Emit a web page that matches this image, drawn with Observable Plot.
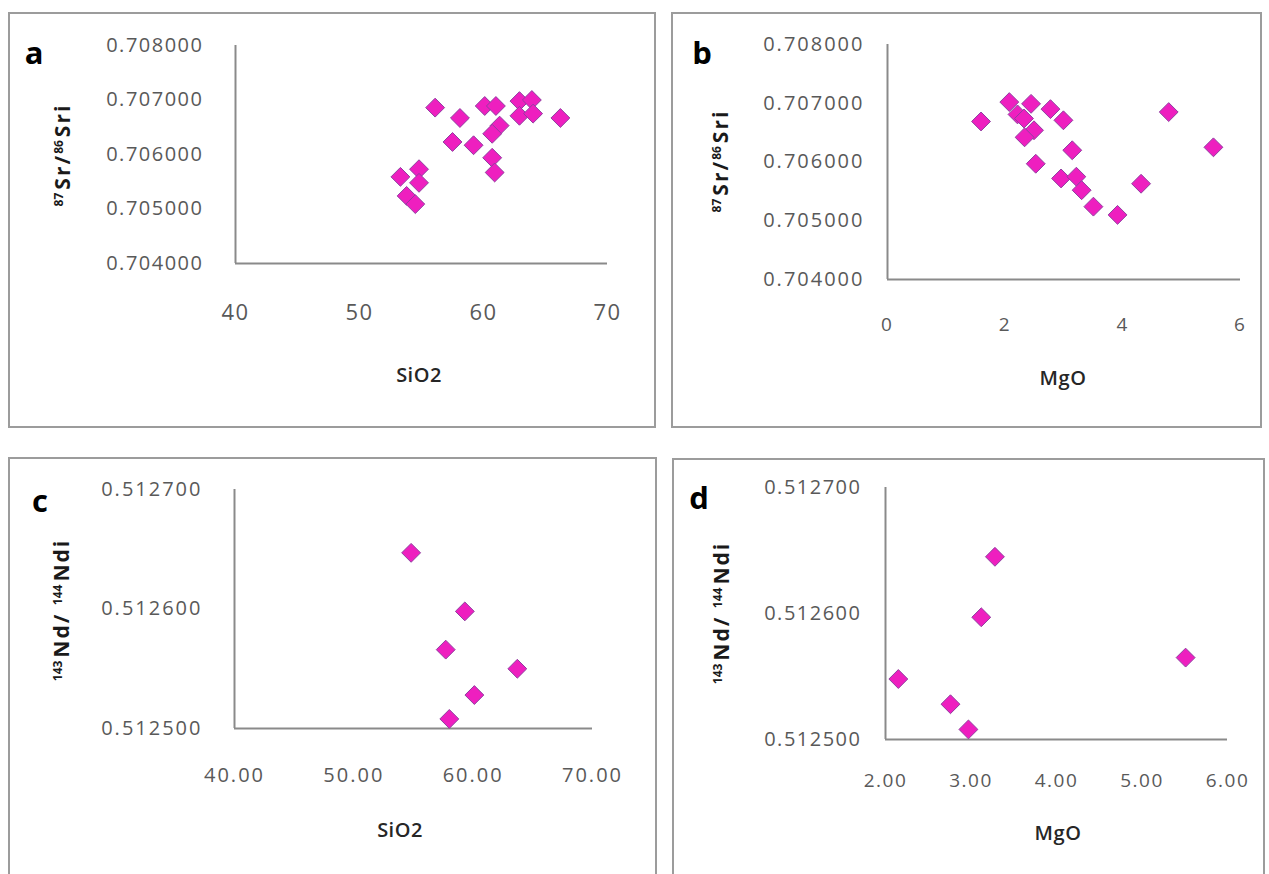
<!DOCTYPE html>
<html><head><meta charset="utf-8">
<script src="https://cdn.jsdelivr.net/npm/d3@7"></script>
<script src="https://cdn.jsdelivr.net/npm/@observablehq/plot@0.6"></script>
<style>
body{margin:0;background:#fff;}
#page{position:relative;width:1269px;height:874px;overflow:hidden;background:#fff;font-family:"Open Sans",sans-serif;}
.box{position:absolute;border:2px solid #9c9c9c;box-sizing:border-box;}
.holder{position:absolute;}
.letter{position:absolute;font-weight:700;font-size:31px;color:#000;transform:translate(-50%,-50%);line-height:1;}
.xt{position:absolute;font-weight:600;font-size:20px;color:#262626;transform:translate(-50%,-50%);line-height:1;letter-spacing:0.5px;}
.yt{position:absolute;font-weight:700;font-size:21px;color:#1a1a1a;transform:translate(-50%,-50%) rotate(-90deg);white-space:nowrap;line-height:1;letter-spacing:2px;}
.yt sup{font-size:12px;font-weight:700;vertical-align:7px;letter-spacing:0;margin-right:3px;}
</style>
</head><body><div id="page"></div>
<script>
// Panel a: SiO2 vs 87Sr/86Sri
const sio2A = [56.1, 58.1, 60.1, 61.0, 62.9, 63.9, 62.9, 64.0, 66.2, 61.3, 60.7, 57.5, 59.2, 60.7, 60.9, 53.3, 54.8, 54.8, 53.8, 54.5];
const srA   = [0.70686, 0.70667, 0.70689, 0.70689, 0.70698, 0.70700, 0.70671, 0.70675, 0.70667, 0.70653, 0.70638, 0.70623, 0.70617, 0.70594, 0.70567, 0.70559, 0.70573, 0.70548, 0.70524, 0.70509];
// Panel b: MgO vs 87Sr/86Sri
const mgoB = [1.59, 2.07, 2.44, 2.21, 2.32, 2.49, 2.33, 2.77, 2.99, 3.14, 2.52, 2.95, 3.21, 3.30, 3.50, 3.91, 4.31, 4.78, 5.54];
const srB  = [0.70669, 0.70702, 0.70699, 0.70681, 0.70674, 0.70654, 0.70642, 0.70690, 0.70671, 0.70620, 0.70597, 0.70572, 0.70575, 0.70552, 0.70524, 0.70510, 0.70563, 0.70685, 0.70625];
// Panel c: SiO2 vs 143Nd/144Ndi
const sio2C = [54.8, 59.3, 57.7, 63.7, 60.1, 58.0];
const ndC   = [0.512647, 0.512598, 0.512566, 0.512550, 0.512528, 0.512508];
// Panel d: MgO vs 143Nd/144Ndi
const mgoD = [3.28, 3.12, 5.51, 2.15, 2.76, 2.97];
const ndD  = [0.512645, 0.512597, 0.512565, 0.512548, 0.512528, 0.512508];
// Tick values
const srTicks = [0.704, 0.705, 0.706, 0.707, 0.708];
const ndTicks = [0.5125, 0.5126, 0.5127];
const sioTicks = [40, 50, 60, 70];
const mgoTicksB = [0, 2, 4, 6];
const mgoTicksD = [2, 3, 4, 5, 6];
const panelLetters = ["a", "b", "c", "d"];
const xTitles = ["SiO2", "MgO", "SiO2", "MgO"];

const page = document.getElementById("page");

function add(cls, html, x, y) {
  const d = document.createElement("div");
  d.className = cls; d.innerHTML = html;
  d.style.left = x + "px"; d.style.top = y + "px";
  page.appendChild(d);
}

function panel(p) {
  const box = document.createElement("div");
  box.className = "box";
  Object.assign(box.style, {left: p.bx + "px", top: p.by + "px", width: p.bw + "px", height: p.bh + "px"});
  page.appendChild(box);
  const data = p.xs.map((x, i) => ({x, y: p.ys[i]}));
  const chart = Plot.plot({
    width: p.w, height: p.h,
    marginLeft: p.fl - p.left, marginRight: p.left + p.w - p.fr,
    marginTop: p.ft - p.top, marginBottom: p.top + p.h - p.fb,
    x: {domain: p.xd},
    y: {domain: p.yd},
    style: {fontFamily: "Open Sans, sans-serif", background: "transparent", overflow: "visible", color: "#595959", letterSpacing: p.ls},
    marks: [
      Plot.axisY(p.yticks, {tickSize: 0, tickPadding: p.ypad, tickFormat: d => d.toFixed(6), fontSize: p.yfs, color: "#595959", label: null}),
      Plot.axisX(p.xticks, {tickSize: 0, tickPadding: p.xpad, tickFormat: p.xfmt, fontSize: p.xfs, color: "#595959", label: null}),
      Plot.ruleX([p.xd[0]], {stroke: "#8a8a8a", strokeWidth: 2}),
      Plot.ruleY([p.yd[0]], {stroke: "#8a8a8a", strokeWidth: 2}),
      Plot.dot(data, {x: "x", y: "y", symbol: "diamond2", r: 8.5, fill: "#ee1fbf", stroke: "#8f3fa0", strokeWidth: 1})
    ]
  });
  const holder = document.createElement("div");
  holder.className = "holder";
  holder.style.left = p.left + "px"; holder.style.top = p.top + "px";
  holder.appendChild(chart);
  page.appendChild(holder);
  add("letter", p.letter, p.lx, p.ly);
  add("xt", p.xtitle, p.xtx, p.xty);
  add("yt", p.ytitle, p.ytx, p.yty);
}

const srTitle = "<sup>87</sup>Sr/<sup>86</sup>Sri";
const ndTitle = "<sup>143</sup>Nd/ <sup>144</sup>Ndi";

panel({bx: 8, by: 12, bw: 648, bh: 416, left: 8, top: 12, w: 648, h: 416,
  fl: 235, fr: 607, ft: 45, fb: 263, xd: [40, 70], yd: [0.704, 0.708],
  xs: sio2A, ys: srA, xticks: sioTicks, yticks: srTicks, xfmt: d => String(d),
  ypad: 32, xpad: 41, yfs: 20, xfs: 22, ls: "1.5px",
  letter: panelLetters[0], lx: 34, ly: 52, xtitle: xTitles[0], xtx: 419, xty: 375,
  ytitle: srTitle, ytx: 62, yty: 155});

panel({bx: 671, by: 12, bw: 591, bh: 416, left: 671, top: 12, w: 591, h: 416,
  fl: 887, fr: 1240, ft: 44, fb: 279, xd: [0, 6], yd: [0.704, 0.708],
  xs: mgoB, ys: srB, xticks: mgoTicksB, yticks: srTicks, xfmt: d => String(d),
  ypad: 23, xpad: 38, yfs: 20, xfs: 19, ls: "2px",
  letter: panelLetters[1], lx: 702, ly: 52, xtitle: xTitles[1], xtx: 1063, xty: 378,
  ytitle: srTitle, ytx: 720, yty: 161});

panel({bx: 8, by: 457, bw: 649, bh: 440, left: 8, top: 457, w: 649, h: 417,
  fl: 234, fr: 592, ft: 489, fb: 728, xd: [40, 70], yd: [0.5125, 0.5127],
  xs: sio2C, ys: ndC, xticks: sioTicks, yticks: ndTicks, xfmt: d => d.toFixed(2),
  ypad: 32, xpad: 39, yfs: 20, xfs: 20, ls: "2px",
  letter: panelLetters[2], lx: 40, ly: 500, xtitle: xTitles[2], xtx: 400, xty: 830,
  ytitle: ndTitle, ytx: 61, yty: 610});

panel({bx: 672, by: 458, bw: 593, bh: 440, left: 672, top: 458, w: 593, h: 416,
  fl: 885, fr: 1227, ft: 487, fb: 739, xd: [2, 6], yd: [0.5125, 0.5127],
  xs: mgoD, ys: ndD, xticks: mgoTicksD, yticks: ndTicks, xfmt: d => d.toFixed(2),
  ypad: 24, xpad: 34, yfs: 20, xfs: 19, ls: "1.5px",
  letter: panelLetters[3], lx: 699, ly: 497, xtitle: xTitles[3], xtx: 1058, xty: 833,
  ytitle: ndTitle, ytx: 721, yty: 613});
</script>
</body></html>
